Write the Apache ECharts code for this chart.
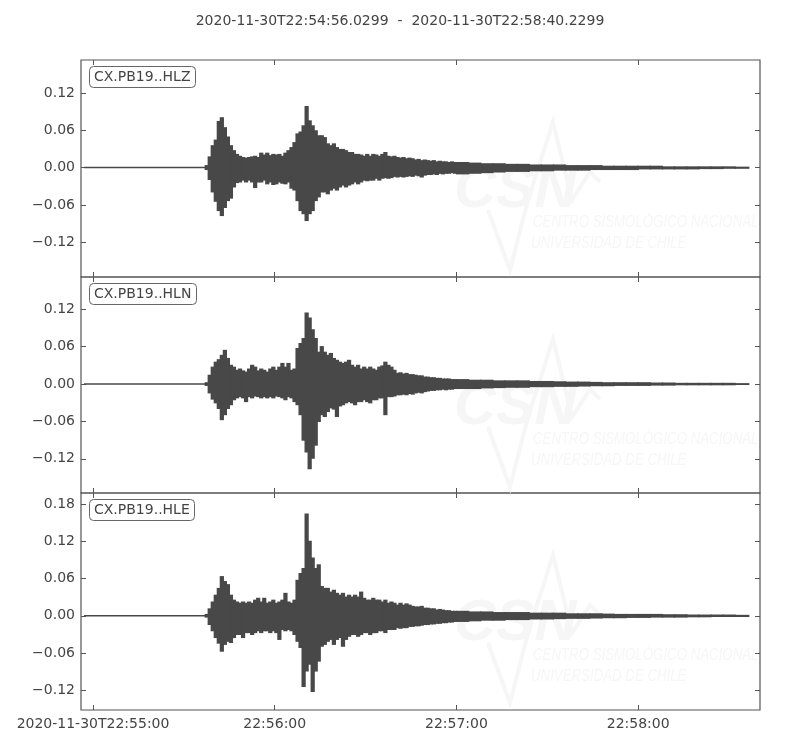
<!DOCTYPE html>
<html>
<head>
<meta charset="utf-8">
<script src="https://cdn.jsdelivr.net/npm/echarts@6.0.0/dist/echarts.min.js"></script>
<style>html,body{margin:0;padding:0;background:#fff;}#chart{width:800px;height:750px;}</style>
</head>
<body>
<div id="chart"></div>
<script>
// ---------------- data ----------------
const titleText = '2020-11-30T22:54:56.0299  -  2020-11-30T22:58:40.2299';
const channels = ['CX.PB19..HLZ', 'CX.PB19..HLN', 'CX.PB19..HLE'];
// time axis in seconds relative to 22:55:00
const timeStart = -3.97;   // 22:54:56.0299
const timeEnd = 220.23;    // 22:58:40.2299
const traceFirst = -2.8;
const traceLast = 216.5;
const xTickValues = [0, 60, 120, 180];
const xTickLabels = ['2020-11-30T22:55:00', '22:56:00', '22:57:00', '22:58:00'];
const yTicksZN = [-0.12, -0.06, 0, 0.06, 0.12];
const yTicksE = [-0.12, -0.06, 0, 0.06, 0.12, 0.18];
const yMin = [-0.176, -0.175, -0.152];
const yMax = [0.173, 0.172, 0.198];

// envelope (max / min per time bin)
// bins: pre-event flat, 1 s bins from 37 s to 119 s, 4 s bins from 120 s to 212 s
const zHi = [0,
 0.004,0.018,0.036,0.045,0.075,0.081,0.065,0.050,0.036,0.028,
 0.022,0.019,0.017,0.016,0.017,0.018,0.019,0.017,0.024,0.021,
 0.024,0.020,0.022,0.021,0.022,0.019,0.024,0.028,0.033,0.041,
 0.055,0.058,0.068,0.099,0.076,0.068,0.060,0.052,0.052,0.049,
 0.039,0.036,0.039,0.033,0.030,0.030,0.028,0.025,0.025,0.022,
 0.022,0.021,0.019,0.022,0.019,0.022,0.021,0.019,0.022,0.025,
 0.019,0.018,0.019,0.017,0.016,0.017,0.015,0.016,0.015,0.013,
 0.014,0.012,0.013,0.012,0.011,0.012,0.010,0.011,0.010,0.010,
 0.009,0.010,0.009,
 0.009,0.008,0.007,0.007,0.006,0.006,0.005,0.005,0.005,0.004,0.004,0.004,
 0.003,0.003,0.003,0.003,0.003,0.002,0.002,0.002,0.002,0.002,0.002,0.0015];
const zLo = [0,
 -0.004,-0.020,-0.040,-0.055,-0.070,-0.078,-0.065,-0.054,-0.050,-0.032,
 -0.025,-0.024,-0.021,-0.024,-0.021,-0.024,-0.033,-0.024,-0.024,-0.021,
 -0.027,-0.024,-0.028,-0.027,-0.024,-0.026,-0.027,-0.024,-0.034,-0.037,
 -0.054,-0.070,-0.075,-0.086,-0.075,-0.070,-0.054,-0.048,-0.040,-0.040,
 -0.043,-0.037,-0.034,-0.037,-0.032,-0.029,-0.032,-0.029,-0.027,-0.024,
 -0.027,-0.024,-0.021,-0.022,-0.021,-0.021,-0.018,-0.021,-0.018,-0.017,
 -0.018,-0.017,-0.015,-0.016,-0.015,-0.016,-0.015,-0.014,-0.015,-0.013,
 -0.014,-0.016,-0.013,-0.012,-0.012,-0.011,-0.012,-0.010,-0.011,-0.010,
 -0.010,-0.009,-0.010,
 -0.011,-0.010,-0.009,-0.008,-0.007,-0.007,-0.006,-0.006,-0.005,-0.005,-0.005,-0.004,
 -0.004,-0.004,-0.004,-0.003,-0.003,-0.003,-0.003,-0.003,-0.0025,-0.0025,-0.002,-0.002];
const nHi = [0,
 0.003,0.015,0.028,0.036,0.040,0.047,0.055,0.042,0.031,0.028,
 0.023,0.025,0.022,0.020,0.025,0.031,0.028,0.022,0.025,0.023,
 0.020,0.025,0.028,0.023,0.028,0.034,0.028,0.034,0.023,0.025,
 0.058,0.066,0.074,0.115,0.107,0.088,0.074,0.052,0.061,0.052,
 0.047,0.050,0.042,0.039,0.036,0.034,0.036,0.039,0.031,0.028,
 0.031,0.025,0.028,0.025,0.028,0.025,0.023,0.028,0.030,0.036,
 0.031,0.028,0.023,0.018,0.019,0.017,0.018,0.016,0.016,0.015,
 0.014,0.014,0.012,0.012,0.011,0.011,0.010,0.010,0.009,0.009,
 0.009,0.008,0.008,
 0.008,0.007,0.007,0.006,0.006,0.006,0.005,0.005,0.0045,0.004,0.004,0.0035,
 0.003,0.003,0.003,0.003,0.0025,0.0025,0.002,0.002,0.002,0.002,0.002,0.0015];
const nLo = [0,
 -0.003,-0.015,-0.025,-0.031,-0.040,-0.058,-0.050,-0.040,-0.034,-0.026,
 -0.023,-0.021,-0.023,-0.029,-0.021,-0.023,-0.020,-0.021,-0.023,-0.021,
 -0.023,-0.021,-0.023,-0.020,-0.021,-0.023,-0.026,-0.021,-0.023,-0.029,
 -0.034,-0.050,-0.091,-0.110,-0.137,-0.120,-0.099,-0.061,-0.050,-0.053,
 -0.045,-0.039,-0.041,-0.053,-0.036,-0.034,-0.031,-0.029,-0.031,-0.034,
 -0.029,-0.029,-0.026,-0.029,-0.031,-0.026,-0.026,-0.023,-0.023,-0.050,
 -0.021,-0.021,-0.020,-0.018,-0.018,-0.017,-0.018,-0.016,-0.017,-0.015,
 -0.014,-0.015,-0.013,-0.012,-0.011,-0.011,-0.010,-0.010,-0.009,-0.010,
 -0.009,-0.009,-0.008,
 -0.008,-0.008,-0.007,-0.0065,-0.006,-0.006,-0.005,-0.005,-0.0045,-0.0045,-0.004,-0.0035,
 -0.0035,-0.003,-0.003,-0.003,-0.0025,-0.0025,-0.002,-0.002,-0.002,-0.002,-0.002,-0.0015];
const eHi = [0,
 0.003,0.012,0.023,0.034,0.045,0.064,0.056,0.051,0.034,0.026,
 0.023,0.021,0.023,0.021,0.023,0.021,0.026,0.029,0.023,0.029,
 0.021,0.023,0.026,0.021,0.023,0.026,0.037,0.023,0.021,0.026,
 0.058,0.069,0.077,0.165,0.121,0.094,0.077,0.083,0.048,0.045,
 0.045,0.039,0.042,0.037,0.034,0.037,0.031,0.034,0.031,0.034,
 0.031,0.039,0.029,0.026,0.026,0.029,0.026,0.026,0.023,0.026,
 0.021,0.023,0.021,0.018,0.021,0.018,0.020,0.018,0.016,0.015,
 0.015,0.016,0.013,0.013,0.012,0.012,0.010,0.011,0.010,0.009,
 0.009,0.008,0.008,
 0.008,0.007,0.007,0.006,0.006,0.006,0.005,0.005,0.005,0.004,0.004,0.004,
 0.0035,0.003,0.003,0.003,0.003,0.0025,0.0025,0.002,0.002,0.002,0.002,0.0015];
const eLo = [0,
 -0.003,-0.015,-0.025,-0.036,-0.045,-0.058,-0.047,-0.042,-0.044,-0.036,
 -0.031,-0.031,-0.036,-0.028,-0.028,-0.031,-0.028,-0.025,-0.028,-0.025,
 -0.025,-0.028,-0.025,-0.028,-0.039,-0.023,-0.025,-0.023,-0.025,-0.031,
 -0.042,-0.052,-0.115,-0.090,-0.079,-0.123,-0.090,-0.074,-0.050,-0.047,
 -0.042,-0.039,-0.047,-0.039,-0.036,-0.050,-0.039,-0.034,-0.031,-0.031,
 -0.034,-0.031,-0.028,-0.028,-0.031,-0.028,-0.028,-0.025,-0.025,-0.028,
 -0.023,-0.023,-0.023,-0.020,-0.021,-0.020,-0.020,-0.018,-0.018,-0.017,
 -0.017,-0.016,-0.015,-0.015,-0.014,-0.014,-0.013,-0.013,-0.012,-0.012,
 -0.011,-0.011,-0.010,
 -0.010,-0.009,-0.008,-0.008,-0.007,-0.007,-0.006,-0.006,-0.0055,-0.005,-0.005,-0.0045,
 -0.004,-0.004,-0.0035,-0.0035,-0.003,-0.003,-0.003,-0.0025,-0.0025,-0.002,-0.002,-0.002];

// bin start times (seconds relative to 22:55:00)
const binStart = [traceFirst];
for (let t = 37; t < 120; t += 1) binStart.push(t);
for (let t = 120; t <= 212; t += 4) binStart.push(t);

// ---------------- chart ----------------
const FONT = 'DejaVu Sans';
const TXT = '#444';
const FRAME = '#555';
const TRACE = '#484848';
const gridTop = [60, 277, 493];
const gridH = [217, 216, 217];

function buildData(hi, lo) {
  const out = [];
  for (let i = 0; i < binStart.length; i++) {
    const end = i + 1 < binStart.length ? binStart[i + 1] : traceLast;
    out.push([binStart[i], end, lo[i], hi[i]]);
  }
  return out;
}
const envelopes = [[zHi, zLo], [nHi, nLo], [eHi, eLo]];

function renderEnv(params, api) {
  const x0 = api.value(0), x1 = api.value(1), lo = api.value(2), hi = api.value(3);
  const pTop = api.coord([x0, hi]);
  const pBot = api.coord([x1, lo]);
  let y = pTop[1], h = pBot[1] - pTop[1];
  if (h < 1.4) { y = (pTop[1] + pBot[1]) / 2 - 0.7; h = 1.4; }
  return {
    type: 'rect',
    shape: { x: pTop[0] - 0.5, y: y, width: pBot[0] - pTop[0] + 1.2, height: h },
    style: { fill: TRACE, stroke: null }
  };
}
function yFmt(v) {
  if (Math.abs(v) < 1e-9) return '0.00';
  return (v < 0 ? '\u2212' : '') + Math.abs(v).toFixed(2);
}

const grids = [], xAxes = [], yAxes = [], series = [], titles = [], graphics = [];
titles.push({ text: titleText, left: 'center', top: 14, padding: 0,
  textStyle: { fontFamily: FONT, fontSize: 14, fontWeight: 'normal', color: TXT } });

for (let i = 0; i < 3; i++) {
  grids.push({ left: 81, right: 40, top: gridTop[i], height: gridH[i], show: true,
    borderColor: FRAME, borderWidth: 1.2, backgroundColor: 'transparent' });
  const yTicks = i === 2 ? yTicksE : yTicksZN;
  const xBase = { type: 'value', gridIndex: i, min: timeStart, max: timeEnd,
    axisLine: { show: false, onZero: false }, splitLine: { show: false },
    axisTick: { show: true, inside: true, length: 5, customValues: xTickValues, lineStyle: { color: FRAME, width: 1 } } };
  xAxes.push(Object.assign({}, xBase, { position: 'bottom',
    axisLabel: { show: i === 2, customValues: xTickValues, margin: 7,
      formatter: v => xTickLabels[xTickValues.indexOf(v)] || '',
      fontFamily: FONT, fontSize: 14, color: TXT } }));
  xAxes.push(Object.assign({}, xBase, { position: 'top', axisLabel: { show: false } }));
  const yBase = { type: 'value', gridIndex: i, min: yMin[i], max: yMax[i],
    axisLine: { show: false, onZero: false }, splitLine: { show: false },
    axisTick: { show: true, inside: true, length: 5, customValues: yTicks, lineStyle: { color: FRAME, width: 1 } } };
  yAxes.push(Object.assign({}, yBase, { position: 'left',
    axisLabel: { show: true, customValues: yTicks, margin: 6, formatter: yFmt,
      fontFamily: FONT, fontSize: 14, color: TXT } }));
  yAxes.push(Object.assign({}, yBase, { position: 'right', axisLabel: { show: false } }));

  series.push({ type: 'custom', xAxisIndex: i * 2, yAxisIndex: i * 2, clip: true, z: 3,
    renderItem: renderEnv, encode: { x: [0, 1], y: [2, 3] },
    data: buildData(envelopes[i][0], envelopes[i][1]), silent: true, animation: false });

  titles.push({ text: channels[i], left: 89, top: gridTop[i] + 6, padding: [4, 5],
    borderColor: '#666', borderWidth: 1, borderRadius: 4, backgroundColor: '#fff',
    textStyle: { fontFamily: FONT, fontSize: 14, fontWeight: 'normal', color: TXT } });

  // faint CSN watermark
  const oy = gridTop[i];
  const wm = '#f6f6f6';
  graphics.push({ type: 'text', left: 454, top: oy + 102, z: 0, silent: true,
    style: { text: 'CSN', fill: wm, font: 'italic bold 58px "Liberation Sans", sans-serif' } });
  graphics.push({ type: 'polyline', z: 0, silent: true,
    shape: { points: [[488, oy + 150], [510, oy + 210], [528, oy + 140], [553, oy + 62], [572, oy + 140], [590, oy + 112], [600, oy + 122]] },
    style: { stroke: wm, lineWidth: 4, fill: null } });
  graphics.push({ type: 'text', x: 533, y: oy + 154, scaleX: 0.78, z: 0, silent: true,
    style: { text: 'CENTRO SISMOLÓGICO NACIONAL', fill: wm, font: 'italic 17px "Liberation Sans", sans-serif' } });
  graphics.push({ type: 'text', x: 531, y: oy + 175, scaleX: 0.78, z: 0, silent: true,
    style: { text: 'UNIVERSIDAD DE CHILE', fill: wm, font: 'italic 17px "Liberation Sans", sans-serif' } });
}

const chart = echarts.init(document.getElementById('chart'), null, { renderer: 'canvas' });
chart.setOption({
  animation: false,
  backgroundColor: '#fff',
  title: titles,
  grid: grids,
  xAxis: xAxes,
  yAxis: yAxes,
  graphic: graphics,
  series: series
});
</script>
</body>
</html>
